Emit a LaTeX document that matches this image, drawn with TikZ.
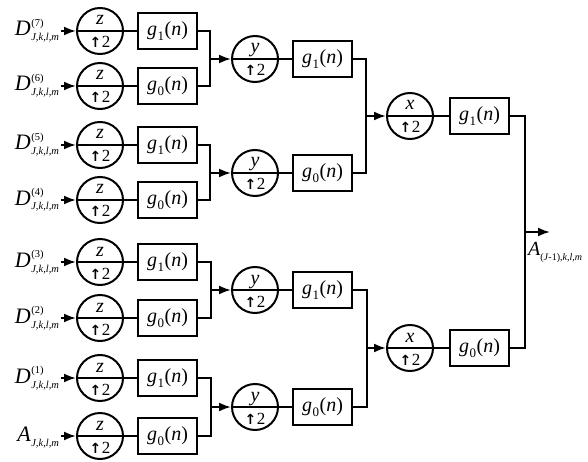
\documentclass[tikz,border=0pt]{standalone}
\usepackage{fontspec}
\setmainfont{Liberation Serif}
\newfontfamily\arrfont{DejaVu Sans}
\usetikzlibrary{arrows.meta}
\newcommand{\tinyfs}{\fontsize{10.5}{11}\selectfont}
\newcommand{\Dlab}[1]{\textit{D}\kern0.5pt\makebox[0pt][l]{\raisebox{9.5pt}{\tinyfs(#1)}}\raisebox{-5pt}{\tinyfs\itshape J,k,l,m}}
\newcommand{\gfn}[1]{\textit{g}\kern0.5pt\raisebox{-0.22em}{\fontsize{13}{13}\selectfont #1}\kern0.5pt(\textit{n})}
\newcommand{\uptwo}{{\arrfont\bfseries\fontsize{14}{14}\selectfont ↑}\kern0.5pt 2}
\begin{document}
\begin{tikzpicture}[x=1pt,y=-1pt, line width=2pt,
  updown/.style={circle, draw, minimum size=46pt, inner sep=0pt},
  filt/.style={draw, minimum width=59pt, minimum height=36pt, inner sep=0pt, font=\fontsize{20}{22}\selectfont},
  lab/.style={anchor=base east, inner sep=1pt, font=\fontsize{22}{24}\selectfont},
  letter/.style={anchor=base, inner sep=0pt, font=\fontsize{20}{22}\selectfont\itshape},
  upfac/.style={anchor=base, inner sep=0pt, font=\fontsize{17}{19}\selectfont},
  arr/.style={-{Latex[length=12pt,width=9pt]}},
]
\useasboundingbox (0,0) rectangle (588,462);

% ---- level 1 ----
\foreach \i/\y/\lbl/\g in {
  1/31/{\Dlab{7}}/1,
  2/86/{\Dlab{6}}/0,
  3/145/{\Dlab{5}}/1,
  4/200/{\Dlab{4}}/0,
  5/262/{\Dlab{3}}/1,
  6/318/{\Dlab{2}}/0,
  7/378/{\Dlab{1}}/1,
  8/436/{\textit{A}\kern0.5pt\raisebox{-5pt}{\tinyfs\itshape J,k,l,m}}/0}{
  \node[updown] (u\i) at (100,\y) {};
  \node[letter] (uz\i) at ([yshift=6pt]u\i.center) {z};
  \node[upfac] (ut\i) at ([yshift=-17pt]u\i.center) {\uptwo};
  \node[filt] (f\i) at (167.5,\y) {\gfn{\g}};
  \node[lab] (l\i) at (61,\y+5) {\lbl};
  \draw[arr] (l\i.east |- u\i.west) -- (u\i.west);
  \draw (u\i.west) -- (f\i.west);
}

% ---- merge points level 1 ----
\coordinate (m1) at (210,59);
\coordinate (m2) at (210,173);
\coordinate (m3) at (211,290);
\coordinate (m4) at (211,407);
\draw (f1.east) -| (m1) |- (f2.east);
\draw (f3.east) -| (m2) |- (f4.east);
\draw (f5.east) -| (m3) |- (f6.east);
\draw (f7.east) -| (m4) |- (f8.east);

% ---- level 2 ----
\foreach \j/\y/\g in {1/59/1, 2/173/0, 3/290/1, 4/407/0}{
  \node[updown] (v\j) at (255,\y) {};
  \node[letter] (vy\j) at ([yshift=6pt]v\j.center) {y};
  \node[upfac] (vt\j) at ([yshift=-17pt]v\j.center) {\uptwo};
  \node[filt] (h\j) at (322.5,\y) {\gfn{\g}};
  \draw[arr] (m\j) -- (v\j.west);
  \draw (v\j.west) -- (h\j.west);
}

\coordinate (n1) at (366,116);
\coordinate (n2) at (367,348);
\draw (h1.east) -| (n1) |- (h2.east);
\draw (h3.east) -| (n2) |- (h4.east);

% ---- level 3 ----
\foreach \k/\y/\g in {1/116/1, 2/348/0}{
  \node[updown] (w\k) at (410,\y) {};
  \node[letter] (wx\k) at ([yshift=6pt]w\k.center) {x};
  \node[upfac] (wt\k) at ([yshift=-17pt]w\k.center) {\uptwo};
  \node[filt] (k\k) at (479.5,\y) {\gfn{\g}};
  \draw[arr] (n\k) -- (w\k.west);
  \draw (w\k.west) -- (k\k.west);
}

\coordinate (p) at (525,232);
\coordinate (out) at (550,232);
\draw (k1.east) -| (p) |- (k2.east);
\draw[arr] (p) -- (out);
\node[anchor=north west, inner sep=0pt, font=\fontsize{20}{22}\selectfont] (alab) at (527,241)
  {\textit{A}\raisebox{-5pt}{\fontsize{10}{11}\selectfont(\textit{J}-1),\textit{k},\textit{l},\textit{m}}};
\end{tikzpicture}
\end{document}
